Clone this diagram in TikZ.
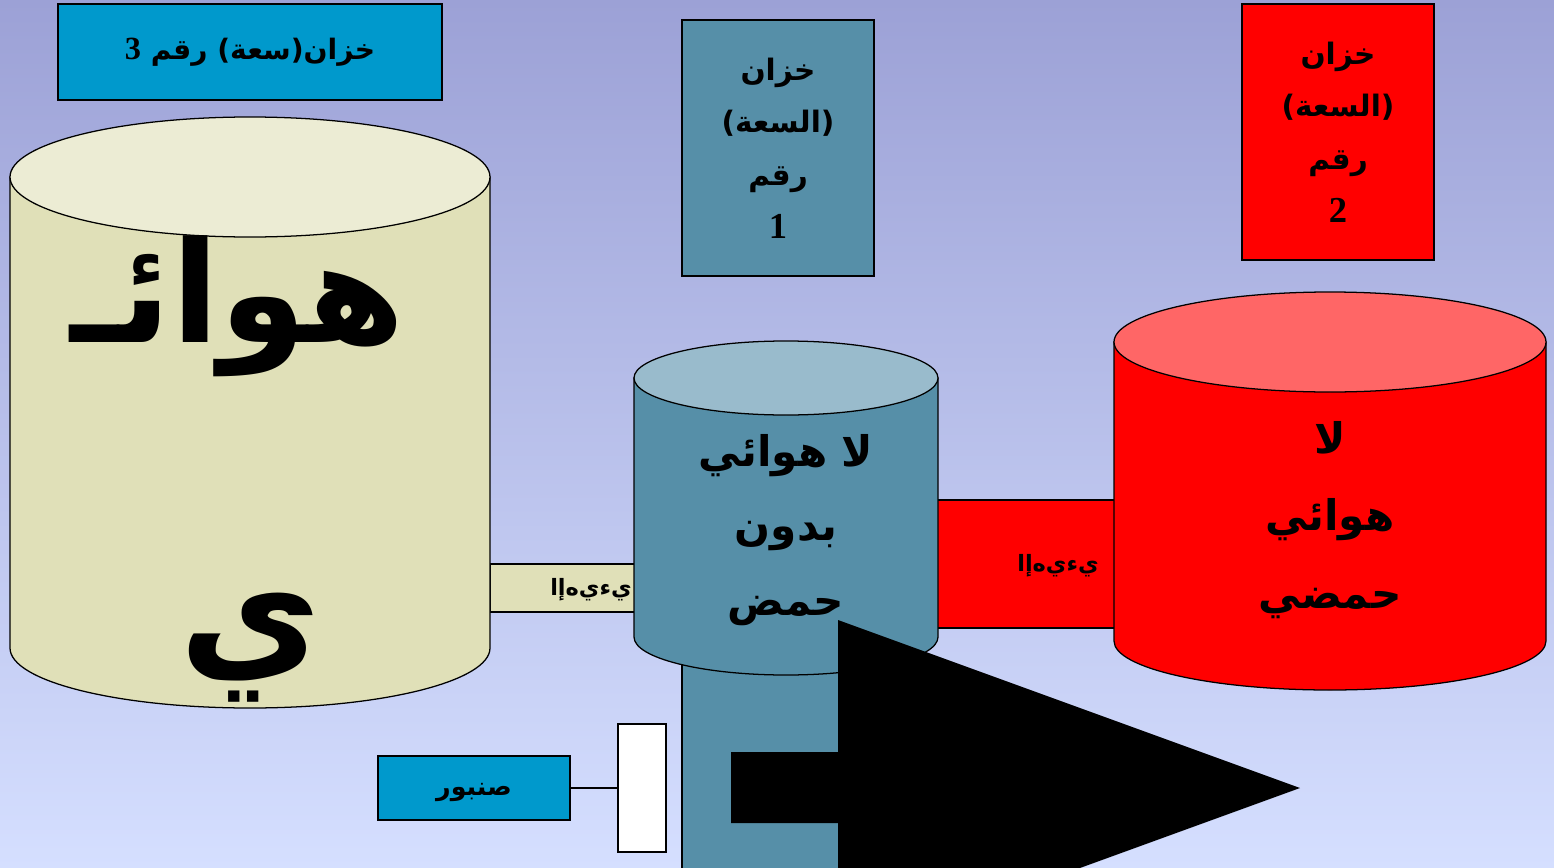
\documentclass[tikz,border=0pt]{standalone}
\usepackage{fontspec}
\setmainfont{Liberation Serif}
\newfontfamily\arabicfont[Script=Arabic]{DejaVu Sans}
\TeXXeTstate=1
\newcommand\rtl[1]{\beginR#1\endR}

\definecolor{bgtop}{RGB}{156,161,214}
\definecolor{bgbot}{RGB}{213,223,255}
\definecolor{labelblue}{RGB}{0,153,204}
\definecolor{steel}{RGB}{86,143,168}
\definecolor{steeltop}{RGB}{153,187,204}
\definecolor{khaki}{RGB}{224,224,184}
\definecolor{khakitop}{RGB}{236,236,212}
\definecolor{redtop}{RGB}{255,102,102}

\begin{document}
\begin{tikzpicture}[x=0.025cm,y=-0.025cm,
  box/.style={draw=black,line width=1.3pt,align=center,inner sep=0pt},
  tankline/.style={draw=black,line width=0.9pt},
  artext/.style={font=\arabicfont\bfseries,align=center,inner sep=0pt}]

% background
\useasboundingbox (0,0) rectangle (1554,868);
\shade[top color=bgtop,bottom color=bgbot] (0,0) rectangle (1554,868);

% column below the middle tank
\filldraw[tankline,fill=steel] (682,600) rectangle (874,900);

% pipes between the tanks
\filldraw[tankline,fill=khaki] (490,564) rectangle (640,612);
\filldraw[tankline,fill=red] (930,500) rectangle (1120,628);

% tank 3 (aerobic)
\filldraw[tankline,fill=khaki] (10,177) -- (10,648)
  arc[start angle=180,end angle=0,x radius=240,y radius=60] -- (490,177) -- cycle;
\draw[tankline,fill=khakitop] (250,177) ellipse[x radius=240,y radius=60];

% tank 1 (anaerobic, no acid)
\filldraw[tankline,fill=steel] (634,378) -- (634,637)
  arc[start angle=180,end angle=0,x radius=152,y radius=38] -- (938,378) -- cycle;
\draw[tankline,fill=steeltop] (786,378) ellipse[x radius=152,y radius=37];

% tank 2 (anaerobic, acidic)
\filldraw[tankline,fill=red] (1114,342) -- (1114,641)
  arc[start angle=180,end angle=0,x radius=216,y radius=49] -- (1546,342) -- cycle;
\draw[tankline,fill=redtop] (1330,342) ellipse[x radius=216,y radius=50];

% tank texts
\node[artext,font=\arabicfont\bfseries\fontsize{100}{100}\selectfont] (air1) at (238,306) {\rtl{هوائـ}};
\node[artext,font=\arabicfont\bfseries\fontsize{110}{110}\selectfont] (air2) at (250,648) {\rtl{ي}};
\node[artext,font=\arabicfont\bfseries\fontsize{30}{53}\selectfont] (midtxt) at (786,530)
  {\rtl{لا هوائي}\\ \rtl{بدون}\\ \rtl{حمض}};
\node[artext,font=\arabicfont\bfseries\fontsize{30}{55}\selectfont] (redtxt) at (1330,520)
  {\rtl{لا}\\ \rtl{هوائي}\\ \rtl{حمضي}};

% pipe labels
\node[artext,font=\arabicfont\bfseries\fontsize{16}{16}\selectfont] (pipeL) at (591,590) {\rtl{ي‌ءي‌ه‌إا}};
\node[artext,font=\arabicfont\bfseries\fontsize{16}{16}\selectfont] (pipeR) at (1058,566) {\rtl{ي‌ءي‌ه‌إا}};

% capacity labels
\node[box,fill=labelblue,minimum width=9.6cm,minimum height=2.4cm,
  font=\arabicfont\bfseries\fontsize{20}{24}\selectfont] (cap3) at (250,52)
  {\rtl{خزان(سعة) رقم {\rmfamily\bfseries\fontsize{23}{24}\selectfont 3}}};
\node[box,fill=steel,minimum width=4.8cm,minimum height=6.4cm,
  font=\arabicfont\bfseries\fontsize{21}{37.5}\selectfont] (cap1) at (778,148)
  {\rtl{خزان}\\ \rtl{(السعة)}\\ \rtl{رقم}\\ {\rmfamily\bfseries\fontsize{26}{37.5}\selectfont 1}};
\node[box,fill=red,minimum width=4.8cm,minimum height=6.4cm,
  font=\arabicfont\bfseries\fontsize{21}{37.5}\selectfont] (cap2) at (1338,132)
  {\rtl{خزان}\\ \rtl{(السعة)}\\ \rtl{رقم}\\ {\rmfamily\bfseries\fontsize{26}{37.5}\selectfont 2}};

% tap and valve
\node[box,fill=labelblue,minimum width=4.8cm,minimum height=1.6cm,text height=10pt,text depth=0pt,
  font=\arabicfont\bfseries\fontsize{18}{20}\selectfont] (tap) at (474,788) {\rtl{صنبور}};
\node[box,fill=white,minimum width=1.2cm,minimum height=3.2cm] (valve) at (642,788) {};
\draw[line width=1.3pt] (tap.east) -- (valve.west);

% flow arrow
\fill[black] (731,752) -- (838,752) -- (838,620) -- (1300,788) -- (838,956)
  -- (838,823) -- (731,823) -- cycle;
\end{tikzpicture}
\end{document}
